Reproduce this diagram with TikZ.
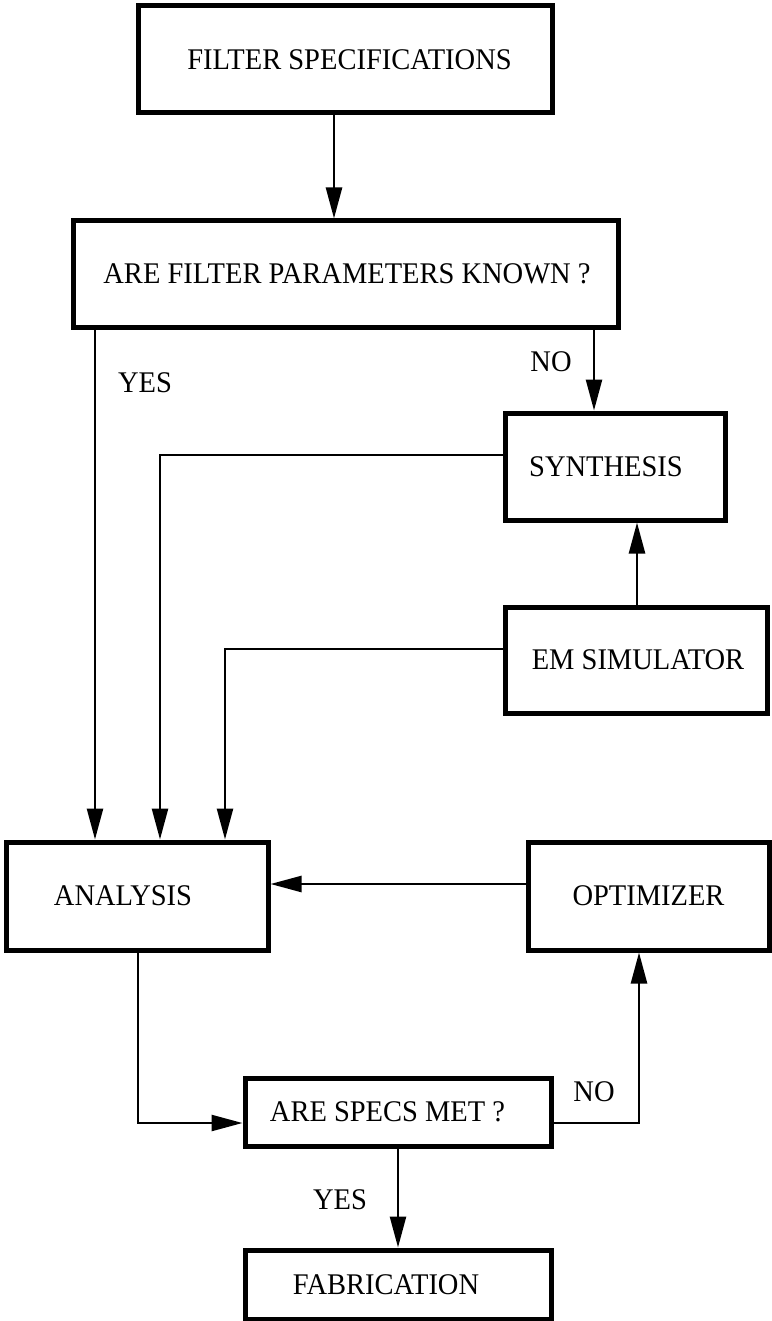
\documentclass[tikz,border=0pt]{standalone}
\usepackage{fontspec}
\setmainfont{Liberation Serif}[FakeStretch=0.95]
\usetikzlibrary{arrows.meta,calc}
\begin{document}
\begin{tikzpicture}[x=1pt,y=-1pt,
  box/.style={draw, line width=5pt, rectangle, inner sep=0pt},
  lbl/.style={font=\fontsize{30}{34}\selectfont, inner sep=0pt},
  conn/.style={line width=2.5pt},
  arr/.style={conn, -{Triangle[length=31pt,width=16pt]}},
  tag/.style={font=\fontsize{30}{34}\selectfont, inner sep=0pt}]
\fill[white] (0,0) rectangle (771,1321);
\useasboundingbox (0,0) rectangle (771,1321);

% process boxes
\node[box, minimum width=414pt, minimum height=107pt,
  label={[lbl,xshift=4.5pt]center:FILTER SPECIFICATIONS}] (spec) at (345,59.5) {};
\node[box, minimum width=545pt, minimum height=106pt,
  label={[lbl,xshift=1.5pt]center:ARE FILTER PARAMETERS KNOWN ?}] (known) at (345.5,274) {};
\node[box, minimum width=220pt, minimum height=107pt,
  label={[lbl,xshift=-9pt]center:SYNTHESIS}] (synth) at (615,466.5) {};
\node[box, minimum width=262pt, minimum height=106pt,
  label={[lbl,xshift=2pt]center:EM SIMULATOR}] (em) at (636,660) {};
\node[box, minimum width=262pt, minimum height=108pt,
  label={[lbl,xshift=-14pt]center:ANALYSIS}] (ana) at (137,896) {};
\node[box, minimum width=241pt, minimum height=108pt,
  label={[lbl]center:OPTIMIZER}] (opt) at (648.5,896) {};
\node[box, minimum width=306pt, minimum height=68pt,
  label={[lbl,xshift=-10.5pt]center:ARE SPECS MET ?}] (met) at (398,1112) {};
\node[box, minimum width=306pt, minimum height=69pt,
  label={[lbl,xshift=-12pt]center:FABRICATION}] (fab) at (398,1284.5) {};

% branch labels
\node[tag] (yes1) at (145,383) {YES};
\node[tag] (no1) at (551,362) {NO};
\node[tag] (no2) at (594,1092) {NO};
\node[tag] (yes2) at (340,1200) {YES};

% lanes used by the connectors
\coordinate (xspec) at (334,0);
\coordinate (xyes) at (95,0);
\coordinate (xno) at (594,0);
\coordinate (xsyn) at (160,0);
\coordinate (xem) at (225,0);
\coordinate (xup) at (637,0);
\coordinate (xana) at (138,0);
\coordinate (xopt) at (639,0);
\coordinate (ysyn) at (0,455);
\coordinate (yem) at (0,649);
\coordinate (yopt) at (0,884);
\coordinate (ymet) at (0,1123);

% connectors
\draw[arr] (spec.south -| xspec) -- (known.north -| xspec);
\draw[arr] (known.south -| xyes) -- (ana.north -| xyes);
\draw[arr] (known.south -| xno) -- (synth.north -| xno);
\draw[arr] (synth.west |- ysyn) -| (ana.north -| xsyn);
\draw[arr] (em.north -| xup) -- (synth.south -| xup);
\draw[arr] (em.west |- yem) -| (ana.north -| xem);
\draw[arr] (opt.west |- yopt) -- (ana.east |- yopt);
\draw[arr] (ana.south -| xana) |- (met.west |- ymet);
\draw[arr] (met.east |- ymet) -| (opt.south -| xopt);
\draw[arr] (met.south) -- (fab.north);
\end{tikzpicture}
\end{document}
